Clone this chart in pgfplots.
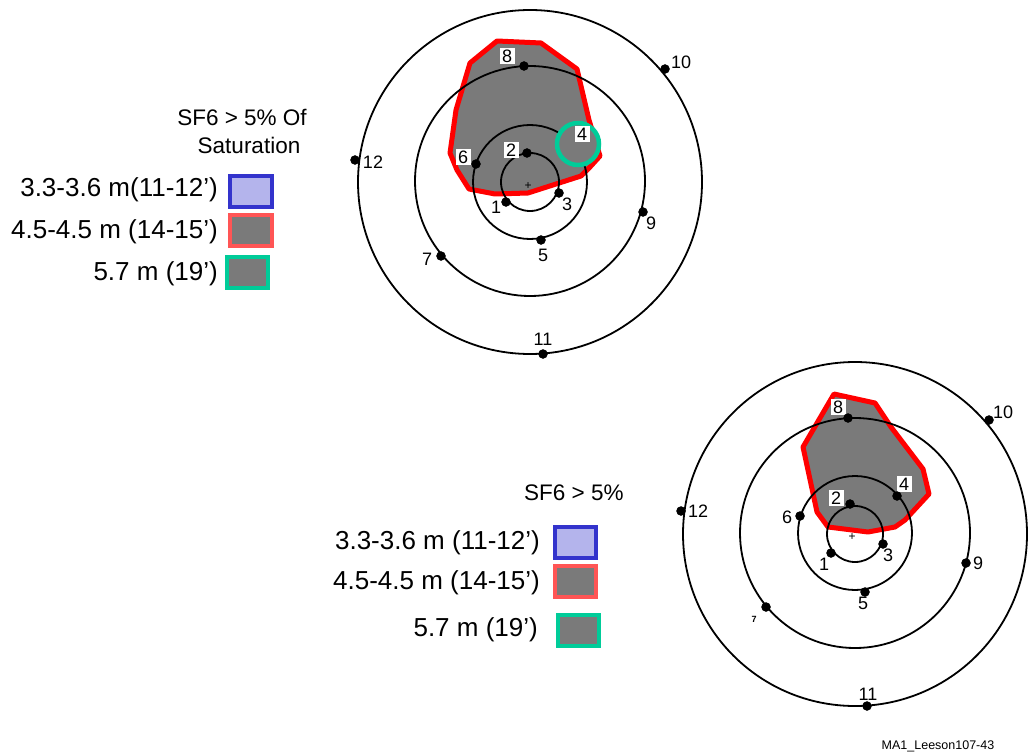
\documentclass[border=0pt]{standalone}
\usepackage{pgfplots}
\pgfplotsset{compat=1.18}
\usepackage{fontspec}
\setmainfont{Liberation Sans}
\definecolor{polyred}{HTML}{FF0000}
\definecolor{fillgrey}{HTML}{7A7A7A}
\definecolor{lgblue}{HTML}{3333CC}
\definecolor{lgbluefill}{HTML}{B4B4EC}
\definecolor{lgred}{HTML}{FF5555}
\definecolor{lggreen}{HTML}{00CC99}
\begin{document}
\begin{tikzpicture}[
  num/.style={font=\fontsize{18bp}{21bp}\selectfont, inner sep=1bp},
  boxnum/.style={font=\fontsize{18bp}{21bp}\selectfont, fill=white, inner xsep=2.5bp, inner ysep=1.5bp},
  lgtext/.style={font=\fontsize{26bp}{30bp}\selectfont, anchor=east, inner sep=0pt},
  ttl/.style={font=\fontsize{22.5bp}{28bp}\selectfont, inner sep=0pt, align=center},
  ring/.style={line width=1.8bp, black}
]
\begin{axis}[width=1029bp, height=756bp, scale only axis,
  xmin=0, xmax=1029, ymin=0, ymax=756, y dir=reverse,
  hide axis, clip=false]
\path (axis cs:0,0) rectangle (axis cs:1029,756);
% ---------------- top diagram ----------------
\addplot[draw=polyred, line width=5bp, fill=fillgrey, line join=round] coordinates {
 (497,41) (541,43) (577,69) (589,120) (600,156) (590,167) (581,176) (528,193)
 (495,194) (469,189) (457,170) (450,153) (456,110) (470,63)} -- cycle;
\draw[ring] (axis cs:530,182) circle[radius=29];
\draw[ring] (axis cs:530,182) circle[radius=57];
\draw[ring] (axis cs:530,181) circle[radius=115];
\draw[ring] (axis cs:530,182) circle[radius=172];
\draw[lggreen, line width=4.5bp, fill=fillgrey] (axis cs:578,144) circle[radius=21];
\addplot[only marks, mark=*, mark size=4.5bp, black] coordinates {
 (506,202) (527,153) (559,193) (541,240) (476,164) (441,256) (524,66)
 (643,212) (665,69) (543,354) (355,160)};
\node[font=\fontsize{12bp}{12bp}\selectfont] at (axis cs:528,186) {+};
\node[num] at (axis cs:496,207) {1};
\node[boxnum] at (axis cs:511,150) {2};
\node[num] at (axis cs:567,204) {3};
\node[boxnum] at (axis cs:582,134) {4};
\node[num] at (axis cs:543,255) {5};
\node[boxnum] at (axis cs:463,157) {6};
\node[num] at (axis cs:427,259) {7};
\node[boxnum] at (axis cs:507,56) {8};
\node[num] at (axis cs:651,223) {9};
\node[num] at (axis cs:681,62) {10};
\node[num] at (axis cs:543,339) {11};
\node[num] at (axis cs:373,162) {12};
% top legend
\node[ttl] at (axis cs:242,117) {SF6 {>} 5\% Of};
\node[ttl] at (axis cs:249,145) {Saturation};
\draw[lgblue, line width=4bp, fill=lgbluefill] (axis cs:230,176) rectangle (axis cs:272,207);
\draw[lgred, line width=4bp, fill=fillgrey] (axis cs:230,215) rectangle (axis cs:272,246);
\draw[lggreen, line width=4bp, fill=fillgrey] (axis cs:227,257) rectangle (axis cs:268,288);
\node[lgtext] at (axis cs:218,190) {3.3-3.6 m(11-12’)};
\node[lgtext] at (axis cs:218,232) {4.5-4.5 m (14-15’)};
\node[lgtext] at (axis cs:218,274) {5.7 m (19’)};
% ---------------- bottom diagram ----------------
\addplot[draw=polyred, line width=5bp, fill=fillgrey, line join=round] coordinates {
 (834,394) (875,403) (891,427) (923,469) (929,494) (905,520) (895,527)
 (868,532) (828,527) (817,512) (803,447)} -- cycle;
\draw[ring] (axis cs:855,534) circle[radius=28];
\draw[ring] (axis cs:855,533) circle[radius=57];
\draw[ring] (axis cs:855,533) circle[radius=115];
\draw[ring] (axis cs:855,534) circle[radius=172];
\addplot[only marks, mark=*, mark size=4.5bp, black] coordinates {
 (831,553) (850,504) (883,544) (897,496) (865,592) (800,516) (766,607)
 (848,418) (966,563) (989,420) (867,706) (681,511)};
\node[font=\fontsize{12bp}{12bp}\selectfont] at (axis cs:852,537) {+};
\node[num] at (axis cs:824,564) {1};
\node[boxnum] at (axis cs:836,498) {2};
\node[num] at (axis cs:888,555) {3};
\node[boxnum] at (axis cs:904,484) {4};
\node[num] at (axis cs:863,603) {5};
\node[num] at (axis cs:787,517) {6};
\node[font=\fontsize{9bp}{9bp}\selectfont\bfseries, inner sep=0pt] at (axis cs:754,619) {7};
\node[boxnum] at (axis cs:838,407) {8};
\node[num] at (axis cs:978,563) {9};
\node[num] at (axis cs:1003,412) {10};
\node[num] at (axis cs:868,694) {11};
\node[num] at (axis cs:698,511) {12};
% bottom legend
\node[ttl, anchor=west] at (axis cs:524,493) {SF6 {>} 5\%};
\draw[lgblue, line width=4bp, fill=lgbluefill] (axis cs:555,527) rectangle (axis cs:596,558);
\draw[lgred, line width=4bp, fill=fillgrey] (axis cs:555,566) rectangle (axis cs:596,597);
\draw[lggreen, line width=4bp, fill=fillgrey] (axis cs:558,615) rectangle (axis cs:599,646);
\node[lgtext] at (axis cs:540,543) {3.3-3.6 m (11-12’)};
\node[lgtext] at (axis cs:540,583) {4.5-4.5 m (14-15’)};
\node[lgtext] at (axis cs:538,630) {5.7 m (19’)};
% footer
\node[font=\fontsize{12.5bp}{14bp}\selectfont, inner sep=0pt] at (axis cs:938,746) {MA1\_Leeson107-43};
\end{axis}
\end{tikzpicture}
\end{document}
